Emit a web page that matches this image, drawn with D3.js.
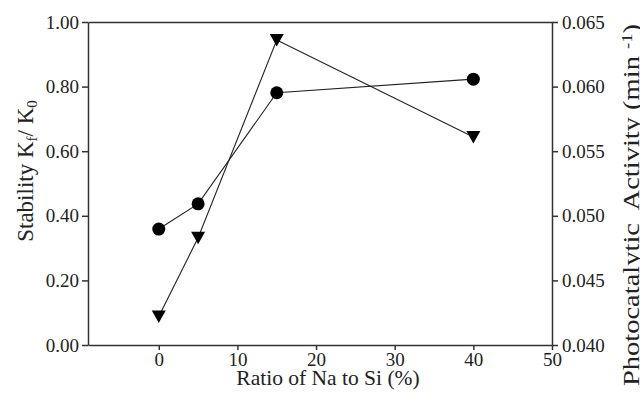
<!DOCTYPE html>
<html>
<head>
<meta charset="utf-8">
<script src="https://cdn.jsdelivr.net/npm/d3@7"></script>
<style>
  body { margin: 0; background: #fff; }
  svg text { font-family: "Liberation Serif", "Times New Roman", serif; fill: #222; }
  .axis path, .axis line { stroke: #333; stroke-width: 1.5; }
  .axis text { font-size: 19px; }
</style>
</head>
<body>
<svg id="chart" width="640" height="395"></svg>
<script>
// data
var ratio = [0, 5, 15, 40];
var stability = [0.359, 0.437, 0.781, 0.823];          // circles, left axis
var activity = [0.0422, 0.0483, 0.0636, 0.0561];       // triangles, right axis
var xTicks = [0, 10, 20, 30, 40, 50];
var yLeftTicks = [0, 0.2, 0.4, 0.6, 0.8, 1.0];
var yRightTicks = [0.040, 0.045, 0.050, 0.055, 0.060, 0.065];

var margin = {top: 22, right: 88, bottom: 50, left: 88},
    width = 640 - margin.left - margin.right,
    height = 395 - margin.top - margin.bottom;

var svg = d3.select("#chart")
  .append("g")
    .attr("transform", "translate(" + margin.left + "," + margin.top + ")");

var x = d3.scaleLinear()
    .domain([-9, 50])
    .range([0, width]);

var yL = d3.scaleLinear()
    .domain([0, 1])
    .range([height, 0]);

var yR = d3.scaleLinear()
    .domain([0.040, 0.065])
    .range([height, 0]);

// axes
svg.append("g")
    .attr("class", "axis")
    .attr("transform", "translate(0," + height + ")")
    .call(d3.axisBottom(x).tickValues(xTicks).tickSize(5).tickSizeOuter(0).tickPadding(3));

svg.append("g")
    .attr("class", "axis")
    .call(d3.axisLeft(yL).tickValues(yLeftTicks).tickFormat(d3.format(".2f")).tickSize(6).tickSizeOuter(0).tickPadding(3));

svg.append("g")
    .attr("class", "axis")
    .attr("transform", "translate(" + width + ",0)")
    .call(d3.axisRight(yR).tickValues(yRightTicks).tickFormat(d3.format(".3f")).tickSize(6).tickSizeOuter(0).tickPadding(4));

svg.append("g")
    .attr("class", "axis")
    .call(d3.axisTop(x).tickValues([]).tickSizeOuter(0));

// lines
var lineL = d3.line()
    .x(function(d, i) { return x(ratio[i]); })
    .y(function(d) { return yL(d); });

var lineR = d3.line()
    .x(function(d, i) { return x(ratio[i]); })
    .y(function(d) { return yR(d); });

svg.append("path")
    .datum(stability)
    .attr("d", lineL)
    .style("fill", "none")
    .style("stroke", "#222")
    .style("stroke-width", 1.1);

svg.append("path")
    .datum(activity)
    .attr("d", lineR)
    .style("fill", "none")
    .style("stroke", "#222")
    .style("stroke-width", 1.1);

// markers
svg.selectAll("circle.pt")
    .data(stability)
  .enter()
  .append("circle")
    .attr("class", "pt")
    .attr("cx", function(d, i) { return x(ratio[i]); })
    .attr("cy", function(d) { return yL(d); })
    .attr("r", 6.5)
    .style("fill", "#000");

svg.selectAll("path.tri")
    .data(activity)
  .enter()
  .append("path")
    .attr("class", "tri")
    .attr("transform", function(d, i) { return "translate(" + x(ratio[i]) + "," + yR(d) + ")"; })
    .attr("d", "M-7,-6L7,-6L0,6.5Z")
    .style("fill", "#000");

// axis titles
svg.append("text")
    .attr("x", width / 2 + 8)
    .attr("y", height + 40)
    .style("text-anchor", "middle")
    .style("font-size", "21.5px")
    .text("Ratio of Na to Si (%)");

var tl = svg.append("text")
    .attr("transform", "translate(" + (33 - margin.left) + "," + (171 - margin.top) + ") rotate(-90)")
    .style("text-anchor", "middle")
    .style("font-size", "23px");
tl.append("tspan").text("Stability K");
tl.append("tspan").attr("baseline-shift", "-25%").style("font-size", "15px").text("f");
tl.append("tspan").text("/ K");
tl.append("tspan").attr("baseline-shift", "-25%").style("font-size", "15px").text("0");

var tr = svg.append("text")
    .attr("transform", "translate(" + (639 - margin.left) + "," + (205 - margin.top) + ") rotate(-90)")
    .style("text-anchor", "middle")
    .style("font-size", "23px")
    .attr("textLength", 362)
    .attr("lengthAdjust", "spacingAndGlyphs");
tr.append("tspan").text("Photocatalytic\u00a0 Activity (min ");
tr.append("tspan").attr("baseline-shift", "45%").style("font-size", "15px").text("-1");
tr.append("tspan").text(")");
</script>
</body>
</html>
